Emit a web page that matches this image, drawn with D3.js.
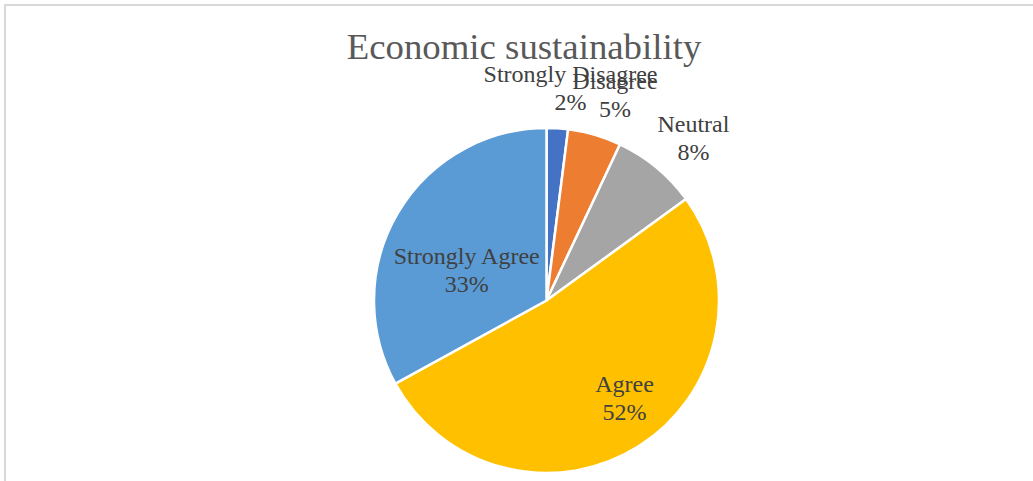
<!DOCTYPE html>
<html>
<head>
<meta charset="utf-8">
<script src="https://cdn.jsdelivr.net/npm/d3@7"></script>
<style>
  html, body { margin: 0; padding: 0; background: #ffffff; }
  svg { display: block; }
</style>
</head>
<body>
<svg id="chart" width="1033" height="481"></svg>
<script>
// Survey responses on economic sustainability (percent of respondents)
const categories = ["Strongly Disagree", "Disagree", "Neutral", "Agree", "Strongly Agree"];
const shares = [2, 5, 8, 52, 33];
const percentLabels = ["2%", "5%", "8%", "52%", "33%"];
const sliceColors = ["#4472C4", "#ED7D31", "#A5A5A5", "#FFC000", "#5B9BD5"];
const chartTitle = "Economic sustainability";

const width = 1033, height = 481;
const cx = 546.5, cy = 300.5, radius = 172.5;
const serif = "'Liberation Serif', 'Times New Roman', serif";

const svg = d3.select("#chart");

// chart area frame (top and left edges visible)
svg.append("line").attr("x1", 4.5).attr("y1", 5).attr("x2", width).attr("y2", 5)
  .attr("stroke", "#d9d9d9").attr("stroke-width", 2);
svg.append("line").attr("x1", 5).attr("y1", 4).attr("x2", 5).attr("y2", height)
  .attr("stroke", "#d9d9d9").attr("stroke-width", 2);

// title
svg.append("text")
  .attr("x", 524).attr("y", 58.5)
  .attr("text-anchor", "middle")
  .attr("font-family", serif)
  .attr("font-size", 36.8)
  .attr("fill", "#595959")
  .text(chartTitle);

const data = categories.map((c, i) => ({ category: c, value: shares[i], label: percentLabels[i], color: sliceColors[i] }));

const pie = d3.pie().sort(null).value(d => d.value);
const arcs = pie(data);
const arc = d3.arc().innerRadius(0).outerRadius(radius);

const g = svg.append("g").attr("transform", `translate(${cx},${cy})`);

g.selectAll("path.slice")
  .data(arcs)
  .join("path")
  .attr("class", "slice")
  .attr("d", arc)
  .attr("fill", d => d.data.color)
  .attr("stroke", "#ffffff")
  .attr("stroke-width", 2.5)
  .attr("stroke-linejoin", "round");

// best-fit label placement: large slices inside, thin slices outside
const labelRadiusFactor = [1.24, 1.24, 1.24, 0.70, 0.55];
const labelNudge = [[10.6, 1.1], [8.8, -0.3], [10.6, 2.5], [13.3, -4.3], [1.9, 17.5]];

const labels = g.selectAll("g.label")
  .data(arcs)
  .join("g")
  .attr("class", "label")
  .attr("transform", (d, i) => {
    const r = radius * labelRadiusFactor[i];
    const c = d3.arc().innerRadius(r).outerRadius(r).centroid(d);
    return `translate(${c[0] + labelNudge[i][0]},${c[1] + labelNudge[i][1]})`;
  });

labels.append("text")
  .attr("text-anchor", "middle")
  .attr("dominant-baseline", "central")
  .attr("y", -14)
  .attr("font-family", serif)
  .attr("font-size", 24)
  .attr("fill", "#404040")
  .text(d => d.data.category);

labels.append("text")
  .attr("text-anchor", "middle")
  .attr("dominant-baseline", "central")
  .attr("y", 14)
  .attr("font-family", serif)
  .attr("font-size", 24)
  .attr("fill", "#404040")
  .text(d => d.data.label);
</script>
</body>
</html>
